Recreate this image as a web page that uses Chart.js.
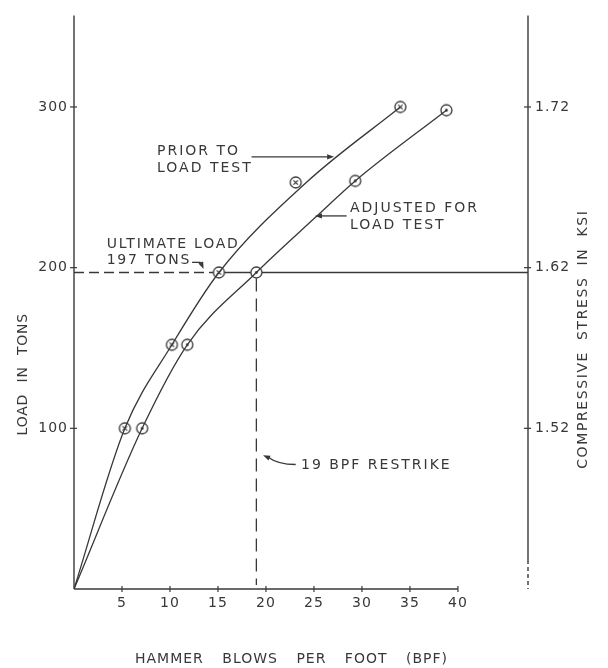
<!DOCTYPE html>
<html>
<head>
<meta charset="utf-8">
<script src="https://cdn.jsdelivr.net/npm/chart.js@4.4.1/dist/chart.umd.min.js"></script>
<style>
  html, body { margin: 0; padding: 0; background: #fff; }
  canvas { display: block; }
</style>
</head>
<body>
<canvas id="pileChart" width="608" height="668"></canvas>
<script>
// curves as drawn
const priorCurveBpf = [0, 5.3, 10.2, 15.1, 24.2, 34.0];
const priorCurveLoad = [0, 100, 152, 197, 253, 300];
const adjustedCurveBpf = [0, 7.1, 11.8, 19.0, 25.1, 29.3, 38.8];
const adjustedCurveLoad = [0, 100, 152, 197, 231, 254, 298];

// plotted points
const priorBpf = [5.3, 10.2, 15.1, 23.1, 34.0];
const priorLoad = [100, 152, 197, 253, 300];
const adjustedBpf = [7.1, 11.8, 19.0, 29.3, 38.8];
const adjustedLoad = [100, 152, 197, 254, 298];

const ultimateLoad = 197;
const restrikeBpf = 19;

// ticks
const bpfTicks = [5, 10, 15, 20, 25, 30, 35, 40];
const loadTicks = [100, 200, 300];
const stressTicks = [1.52, 1.62, 1.72];

const INK = '#383838';
const FONT = '"DejaVu Sans", sans-serif';

// marker images: circle with an x / circle with a dot
function makeMarker(kind) {
    const c = document.createElement('canvas');
    c.width = 15; c.height = 15;
    const g = c.getContext('2d');
    g.fillStyle = '#fff';
    g.strokeStyle = INK;
    g.lineWidth = 1.3;
    g.beginPath();
    g.arc(7.5, 7.5, 5.5, 0, Math.PI * 2);
    g.fill();
    g.stroke();
    if (kind === 'x') {
        g.lineWidth = 1.2;
        g.beginPath();
        g.moveTo(5.3, 5.3); g.lineTo(9.7, 9.7);
        g.moveTo(9.7, 5.3); g.lineTo(5.3, 9.7);
        g.stroke();
    } else {
        g.fillStyle = INK;
        g.beginPath();
        g.arc(7.5, 7.5, 1.4, 0, Math.PI * 2);
        g.fill();
    }
    return c;
}

const toPoints = (xs, ys) => xs.map((v, i) => ({ x: v, y: ys[i] }));

function seg(ctx, x1, y1, x2, y2) {
    ctx.beginPath();
    ctx.moveTo(x1, y1);
    ctx.lineTo(x2, y2);
    ctx.stroke();
}

function arrowHead(ctx, fromX, fromY, tipX, tipY) {
    const a = Math.atan2(tipY - fromY, tipX - fromX);
    const len = 7, w = 2.6;
    ctx.beginPath();
    ctx.moveTo(tipX, tipY);
    ctx.lineTo(tipX - len * Math.cos(a) + w * Math.sin(a), tipY - len * Math.sin(a) - w * Math.cos(a));
    ctx.lineTo(tipX - len * Math.cos(a) - w * Math.sin(a), tipY - len * Math.sin(a) + w * Math.cos(a));
    ctx.closePath();
    ctx.fill();
}

function text(ctx, s, px, py, spacing, wordGap) {
    ctx.letterSpacing = spacing + 'px';
    ctx.wordSpacing = (wordGap || 0) + 'px';
    ctx.fillText(s, px, py + 5);
}

const draftingPlugin = {
    id: 'drafting',
    beforeDraw(chart) {
        chart.ctx.letterSpacing = '1px';
    },
    beforeDatasetsDraw(chart) {
        const { ctx, scales: { x, y, y2 } } = chart;
        const x0 = x.getPixelForValue(0);
        const yb = y.getPixelForValue(0);
        const xr = x.right;
        ctx.save();
        ctx.strokeStyle = INK;
        ctx.lineWidth = 1.4;

        // axes
        seg(ctx, x0, y.top, x0, yb);
        seg(ctx, x0, yb, x.getPixelForValue(bpfTicks[bpfTicks.length - 1]), yb);
        const breakY = y.getPixelForValue(18);
        seg(ctx, xr, y.top, xr, breakY);
        ctx.setLineDash([4, 3]);
        seg(ctx, xr, breakY, xr, yb);
        ctx.setLineDash([]);

        // tick marks
        ctx.lineWidth = 1.2;
        bpfTicks.forEach(v => {
            const p = x.getPixelForValue(v);
            seg(ctx, p, yb - 3, p, yb + 3);
        });
        loadTicks.forEach(v => {
            const p = y.getPixelForValue(v);
            seg(ctx, x0 - 4, p, x0 + 3, p);
        });
        stressTicks.forEach(v => {
            const p = y2.getPixelForValue(v);
            seg(ctx, xr - 4, p, xr + 3, p);
        });

        // ultimate load line and restrike line
        const yu = y.getPixelForValue(ultimateLoad);
        const xSplit = x.getPixelForValue(priorBpf[2]);
        ctx.lineWidth = 1.3;
        ctx.setLineDash([10, 5]);
        seg(ctx, x0, yu, xSplit, yu);
        const xs = x.getPixelForValue(restrikeBpf);
        ctx.setLineDash([13, 7]);
        seg(ctx, xs, yu + 6, xs, yb - 4);
        ctx.setLineDash([]);
        seg(ctx, xSplit, yu, xr, yu);
        ctx.restore();
    },
    afterDatasetsDraw(chart) {
        const { ctx, scales: { x, y } } = chart;
        const X = v => x.getPixelForValue(v);
        const Y = v => y.getPixelForValue(v);
        ctx.save();
        ctx.fillStyle = INK;
        ctx.strokeStyle = INK;
        ctx.lineWidth = 1.3;
        ctx.font = '14px ' + FONT;
        ctx.textAlign = 'left';
        ctx.textBaseline = 'alphabetic';

        // prior to load test
        text(ctx, 'PRIOR TO', X(8.65), Y(273.2), 2);
        text(ctx, 'LOAD TEST', X(8.65), Y(262.5), 2);
        seg(ctx, X(18.5), Y(269), X(26.4), Y(269));
        arrowHead(ctx, X(18.5), Y(269), X(27.1), Y(269));

        // adjusted for load test
        text(ctx, 'ADJUSTED FOR', X(28.75), Y(237.7), 2);
        text(ctx, 'LOAD TEST', X(28.75), Y(227.4), 2);
        seg(ctx, X(28.4), Y(232.2), X(25.8), Y(232.2));
        arrowHead(ctx, X(28.4), Y(232.2), X(25.1), Y(232.2));

        // ultimate load
        text(ctx, 'ULTIMATE LOAD', X(3.4), Y(215.6), 1.8);
        text(ctx, '197 TONS', X(3.4), Y(205.1), 1.8);
        seg(ctx, X(12.3), Y(203.3), X(13.2), Y(203.3));
        seg(ctx, X(13.2), Y(203.3), X(13.35), Y(201.5));
        arrowHead(ctx, X(13.2), Y(203.3), X(13.5), Y(199.2));

        // restrike
        text(ctx, '19 BPF RESTRIKE', X(23.65), Y(77.8), 2);
        ctx.beginPath();
        ctx.moveTo(X(23.1), Y(77.5));
        ctx.quadraticCurveTo(X(21.2), Y(77.6), X(20.2), Y(82.2));
        ctx.stroke();
        arrowHead(ctx, X(20.8), Y(80.4), X(19.7), Y(83.2));

        // axis titles
        ctx.textAlign = 'center';
        ctx.save();
        ctx.translate(22, (y.top + y.bottom) / 2 + 72);
        ctx.rotate(-Math.PI / 2);
        text(ctx, 'LOAD IN TONS', 0, 0, 0.8, 6);
        ctx.restore();

        ctx.save();
        ctx.translate(582, (y.top + y.bottom) / 2 + 37);
        ctx.rotate(-Math.PI / 2);
        text(ctx, 'COMPRESSIVE STRESS IN KSI', 0, 0, 1.6, 5);
        ctx.restore();

        ctx.textAlign = 'left';
        text(ctx, 'HAMMER BLOWS PER FOOT (BPF)', 135, 658, 1, 13);
        ctx.restore();
    }
};

const ctx = document.getElementById('pileChart').getContext('2d');
const priorMarker = makeMarker('x');
const adjustedMarker = makeMarker('dot');

new Chart(ctx, {
    type: 'line',
    data: {
        datasets: [
            {
                label: 'Prior to load test',
                data: toPoints(priorCurveBpf, priorCurveLoad),
                borderColor: INK,
                borderWidth: 1.3,
                pointRadius: 0,
                cubicInterpolationMode: 'monotone',
                fill: false
            },
            {
                label: 'Adjusted for load test',
                data: toPoints(adjustedCurveBpf, adjustedCurveLoad),
                borderColor: INK,
                borderWidth: 1.3,
                pointRadius: 0,
                cubicInterpolationMode: 'monotone',
                fill: false
            },
            {
                type: 'scatter',
                label: 'Prior points',
                data: toPoints(priorBpf, priorLoad),
                pointStyle: priorMarker,
                showLine: false
            },
            {
                type: 'scatter',
                label: 'Adjusted points',
                data: toPoints(adjustedBpf, adjustedLoad),
                pointStyle: adjustedMarker,
                showLine: false
            }
        ]
    },
    options: {
        responsive: false,
        animation: false,
        layout: { padding: { top: 10, left: 0, right: 0, bottom: 0 } },
        plugins: {
            legend: { display: false },
            tooltip: { enabled: false },
            title: { display: false }
        },
        scales: {
            x: {
                type: 'linear',
                min: 0,
                max: 47.3,
                grid: { display: false, drawTicks: false },
                border: { display: false },
                afterBuildTicks: s => { s.ticks = bpfTicks.map(v => ({ value: v })); },
                afterFit: s => { s.height = 79; },
                ticks: {
                    padding: 6,
                    color: INK,
                    font: { family: FONT, size: 14 }
                }
            },
            y: {
                type: 'linear',
                position: 'left',
                min: 0,
                max: 357,
                grid: { display: false, drawTicks: false },
                border: { display: false },
                afterBuildTicks: s => { s.ticks = loadTicks.map(v => ({ value: v })); },
                afterFit: s => { s.width = 74; },
                ticks: {
                    padding: 6,
                    color: INK,
                    font: { family: FONT, size: 14 }
                }
            },
            y2: {
                type: 'linear',
                position: 'right',
                min: 1.42,
                max: 1.777,
                grid: { display: false, drawTicks: false },
                border: { display: false },
                afterBuildTicks: s => { s.ticks = stressTicks.map(v => ({ value: v })); },
                afterFit: s => { s.width = 80; },
                ticks: {
                    padding: 7,
                    color: INK,
                    font: { family: FONT, size: 14 },
                    callback: v => v.toFixed(2)
                }
            }
        }
    },
    plugins: [draftingPlugin]
});
</script>
</body>
</html>
